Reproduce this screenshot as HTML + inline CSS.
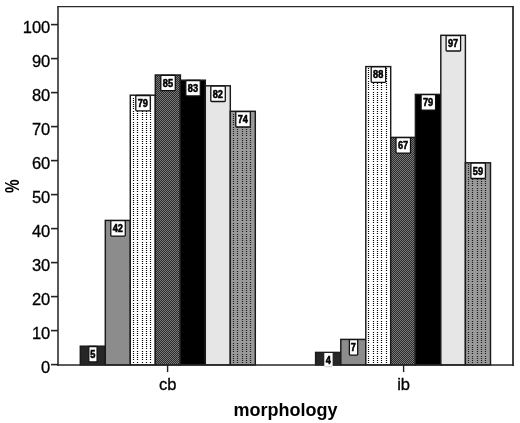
<!DOCTYPE html>
<html><head><meta charset="utf-8"><title>chart</title>
<style>
html,body{margin:0;padding:0;background:#fff;}
body{width:520px;height:423px;overflow:hidden;}
svg{display:block;}
text{font-family:"Liberation Sans",Arial,sans-serif;fill:#000;}
.t{font-size:16.5px;text-anchor:end;stroke:#000;stroke-width:0.3px;}
.c{font-size:16.5px;text-anchor:middle;stroke:#000;stroke-width:0.3px;}
.b{font-size:18px;font-weight:bold;text-anchor:middle;}
.l{font-size:10.1px;font-weight:bold;text-anchor:middle;stroke:#000;stroke-width:0.55px;}
</style></head><body>
<svg width="520" height="423" viewBox="0 0 520 423">
<defs>
<pattern id="pc" width="2" height="2" patternUnits="userSpaceOnUse" x="0" y="0">
<rect width="2" height="2" fill="#2c2c2c"/><rect width="1" height="1" fill="#787878"/><rect x="1" y="1" width="1" height="1" fill="#787878"/>
</pattern>
</defs>
<rect width="520" height="423" fill="#fff"/>

<rect x="80.3" y="346.2" width="25.0" height="18.7" fill="#262626" stroke="#1a1a1a" stroke-width="1.45"/>
<rect x="105.3" y="220.4" width="25.0" height="144.5" fill="#8c8c8c" stroke="#1a1a1a" stroke-width="1.45"/>
<rect x="130.3" y="95.2" width="25.0" height="269.7" fill="#fff" stroke="#1a1a1a" stroke-width="1.45"/>
<path d="M133.5 98 V364.3" stroke="#000" stroke-width="1.2" stroke-dasharray="1 1 1 1 1 1 1 1 1 1 1 2 1 1 1 1 1 1 1 1 1 2"/>
<path d="M137.5 98 V364.3" stroke="#000" stroke-width="1.2" stroke-dasharray="1 1 1 1 1 1 1 1 1 1 1 2 1 1 1 1 1 1 1 1 1 2"/>
<path d="M142.5 98 V364.3" stroke="#000" stroke-width="1.2" stroke-dasharray="1 1 1 1 1 1 1 1 1 1 1 2 1 1 1 1 1 1 1 1 1 2"/>
<path d="M146.5 98 V364.3" stroke="#000" stroke-width="1.2" stroke-dasharray="1 1 1 1 1 1 1 1 1 1 1 2 1 1 1 1 1 1 1 1 1 2"/>
<path d="M150.5 98 V364.3" stroke="#000" stroke-width="1.2" stroke-dasharray="1 1 1 1 1 1 1 1 1 1 1 2 1 1 1 1 1 1 1 1 1 2"/>
<rect x="155.3" y="75.0" width="25.1" height="289.9" fill="url(#pc)" stroke="#1a1a1a" stroke-width="1.45"/>
<rect x="180.4" y="80.2" width="24.9" height="284.7" fill="#000" stroke="#1a1a1a" stroke-width="1.45"/>
<rect x="205.3" y="85.8" width="25.0" height="279.1" fill="#e6e6e6" stroke="#1a1a1a" stroke-width="1.45"/>
<rect x="230.3" y="111.3" width="25.0" height="253.6" fill="#9a9a9a" stroke="#1a1a1a" stroke-width="1.45"/>
<path d="M233.5 114 V364.3" stroke="#1c1c1c" stroke-width="1.2" stroke-dasharray="1 1 1 1 1 1 1 1 1 1 1 2 1 1 1 1 1 1 1 1 1 2"/>
<path d="M237.5 114 V364.3" stroke="#1c1c1c" stroke-width="1.2" stroke-dasharray="1 1 1 1 1 1 1 1 1 1 1 2 1 1 1 1 1 1 1 1 1 2"/>
<path d="M242.5 114 V364.3" stroke="#1c1c1c" stroke-width="1.2" stroke-dasharray="1 1 1 1 1 1 1 1 1 1 1 2 1 1 1 1 1 1 1 1 1 2"/>
<path d="M246.5 114 V364.3" stroke="#1c1c1c" stroke-width="1.2" stroke-dasharray="1 1 1 1 1 1 1 1 1 1 1 2 1 1 1 1 1 1 1 1 1 2"/>
<path d="M250.5 114 V364.3" stroke="#1c1c1c" stroke-width="1.2" stroke-dasharray="1 1 1 1 1 1 1 1 1 1 1 2 1 1 1 1 1 1 1 1 1 2"/>
<rect x="315.6" y="352.4" width="25.2" height="12.5" fill="#262626" stroke="#1a1a1a" stroke-width="1.45"/>
<rect x="340.8" y="339.4" width="25.0" height="25.5" fill="#8c8c8c" stroke="#1a1a1a" stroke-width="1.45"/>
<rect x="365.8" y="66.6" width="24.9" height="298.3" fill="#fff" stroke="#1a1a1a" stroke-width="1.45"/>
<path d="M368.5 68 V364.3" stroke="#000" stroke-width="1.2" stroke-dasharray="1 1 1 1 1 1 1 1 1 1 1 2 1 1 1 1 1 1 1 1 1 2"/>
<path d="M373.5 68 V364.3" stroke="#000" stroke-width="1.2" stroke-dasharray="1 1 1 1 1 1 1 1 1 1 1 2 1 1 1 1 1 1 1 1 1 2"/>
<path d="M377.5 68 V364.3" stroke="#000" stroke-width="1.2" stroke-dasharray="1 1 1 1 1 1 1 1 1 1 1 2 1 1 1 1 1 1 1 1 1 2"/>
<path d="M381.5 68 V364.3" stroke="#000" stroke-width="1.2" stroke-dasharray="1 1 1 1 1 1 1 1 1 1 1 2 1 1 1 1 1 1 1 1 1 2"/>
<path d="M386.5 68 V364.3" stroke="#000" stroke-width="1.2" stroke-dasharray="1 1 1 1 1 1 1 1 1 1 1 2 1 1 1 1 1 1 1 1 1 2"/>
<rect x="390.7" y="137.4" width="24.7" height="227.5" fill="url(#pc)" stroke="#1a1a1a" stroke-width="1.45"/>
<rect x="415.4" y="94.4" width="25.4" height="270.5" fill="#000" stroke="#1a1a1a" stroke-width="1.45"/>
<rect x="440.8" y="35.3" width="24.6" height="329.6" fill="#e6e6e6" stroke="#1a1a1a" stroke-width="1.45"/>
<rect x="465.4" y="162.8" width="25.1" height="202.1" fill="#9a9a9a" stroke="#1a1a1a" stroke-width="1.45"/>
<path d="M468.5 164 V364.3" stroke="#1c1c1c" stroke-width="1.2" stroke-dasharray="1 1 1 1 1 1 1 1 1 1 1 2 1 1 1 1 1 1 1 1 1 2"/>
<path d="M472.5 164 V364.3" stroke="#1c1c1c" stroke-width="1.2" stroke-dasharray="1 1 1 1 1 1 1 1 1 1 1 2 1 1 1 1 1 1 1 1 1 2"/>
<path d="M477.5 164 V364.3" stroke="#1c1c1c" stroke-width="1.2" stroke-dasharray="1 1 1 1 1 1 1 1 1 1 1 2 1 1 1 1 1 1 1 1 1 2"/>
<path d="M481.5 164 V364.3" stroke="#1c1c1c" stroke-width="1.2" stroke-dasharray="1 1 1 1 1 1 1 1 1 1 1 2 1 1 1 1 1 1 1 1 1 2"/>
<path d="M485.5 164 V364.3" stroke="#1c1c1c" stroke-width="1.2" stroke-dasharray="1 1 1 1 1 1 1 1 1 1 1 2 1 1 1 1 1 1 1 1 1 2"/>
<path d="M57.2 6.6 H513.8" stroke="#2a2a2a" stroke-width="1.3"/>
<path d="M58 6 V365.8" stroke="#2e2e2e" stroke-width="1.6"/>
<path d="M513 6 V365.8" stroke="#2e2e2e" stroke-width="1.8"/>
<path d="M57.2 365 H513.8" stroke="#262626" stroke-width="1.7"/>
<rect x="88.8" y="346.5" width="8.3" height="15.4" rx="0.8" fill="#fff" stroke="#111" stroke-width="1.3"/>
<text class="l" transform="translate(92.8 357.9) scale(0.91 1)">5</text>
<rect x="110.8" y="220.7" width="14.5" height="15.4" rx="0.8" fill="#fff" stroke="#111" stroke-width="1.3"/>
<text class="l" transform="translate(117.8 232.1) scale(0.91 1)">42</text>
<rect x="135.8" y="95.5" width="14.5" height="15.4" rx="0.8" fill="#fff" stroke="#111" stroke-width="1.3"/>
<text class="l" transform="translate(142.8 106.9) scale(0.91 1)">79</text>
<rect x="160.8" y="75.3" width="14.5" height="15.4" rx="0.8" fill="#fff" stroke="#111" stroke-width="1.3"/>
<text class="l" transform="translate(167.9 86.7) scale(0.91 1)">85</text>
<rect x="185.8" y="80.5" width="14.5" height="15.4" rx="0.8" fill="#fff" stroke="#111" stroke-width="1.3"/>
<text class="l" transform="translate(192.9 91.9) scale(0.91 1)">83</text>
<rect x="210.8" y="86.1" width="14.5" height="15.4" rx="0.8" fill="#fff" stroke="#111" stroke-width="1.3"/>
<text class="l" transform="translate(217.8 97.5) scale(0.91 1)">82</text>
<rect x="235.8" y="111.6" width="14.5" height="15.4" rx="0.8" fill="#fff" stroke="#111" stroke-width="1.3"/>
<text class="l" transform="translate(242.8 123.0) scale(0.91 1)">74</text>
<rect x="324.3" y="353.0" width="8.3" height="13.2" fill="#fff"/>
<path d="M324.7 366.7 h7.5" stroke="#bdbdbd" stroke-width="0.8"/>
<text class="l" transform="translate(328.2 364.1) scale(0.91 1)">4</text>
<rect x="349.4" y="339.7" width="8.3" height="15.4" rx="0.8" fill="#fff" stroke="#111" stroke-width="1.3"/>
<text class="l" transform="translate(353.3 351.1) scale(0.91 1)">7</text>
<rect x="371.2" y="66.9" width="14.5" height="15.4" rx="0.8" fill="#fff" stroke="#111" stroke-width="1.3"/>
<text class="l" transform="translate(378.2 78.3) scale(0.91 1)">88</text>
<rect x="396.0" y="137.7" width="14.5" height="15.4" rx="0.8" fill="#fff" stroke="#111" stroke-width="1.3"/>
<text class="l" transform="translate(403.0 149.1) scale(0.91 1)">67</text>
<rect x="421.1" y="94.7" width="14.5" height="15.4" rx="0.8" fill="#fff" stroke="#111" stroke-width="1.3"/>
<text class="l" transform="translate(428.1 106.1) scale(0.91 1)">79</text>
<rect x="446.1" y="35.6" width="14.5" height="15.4" rx="0.8" fill="#fff" stroke="#111" stroke-width="1.3"/>
<text class="l" transform="translate(453.1 47.0) scale(0.91 1)">97</text>
<rect x="470.9" y="163.1" width="14.5" height="15.4" rx="0.8" fill="#fff" stroke="#111" stroke-width="1.3"/>
<text class="l" transform="translate(477.9 174.5) scale(0.91 1)">59</text>
<path d="M51 364.6 H58" stroke="#222" stroke-width="1.6"/>
<text class="t" x="50.3" y="372.5">0</text>
<path d="M51 330.6 H58" stroke="#222" stroke-width="1.6"/>
<text class="t" x="50.3" y="338.5">10</text>
<path d="M51 296.6 H58" stroke="#222" stroke-width="1.6"/>
<text class="t" x="50.3" y="304.5">20</text>
<path d="M51 262.6 H58" stroke="#222" stroke-width="1.6"/>
<text class="t" x="50.3" y="270.5">30</text>
<path d="M51 228.6 H58" stroke="#222" stroke-width="1.6"/>
<text class="t" x="50.3" y="236.5">40</text>
<path d="M51 194.6 H58" stroke="#222" stroke-width="1.6"/>
<text class="t" x="50.3" y="202.5">50</text>
<path d="M51 160.6 H58" stroke="#222" stroke-width="1.6"/>
<text class="t" x="50.3" y="168.5">60</text>
<path d="M51 126.6 H58" stroke="#222" stroke-width="1.6"/>
<text class="t" x="50.3" y="134.5">70</text>
<path d="M51 92.6 H58" stroke="#222" stroke-width="1.6"/>
<text class="t" x="50.3" y="100.5">80</text>
<path d="M51 58.6 H58" stroke="#222" stroke-width="1.6"/>
<text class="t" x="50.3" y="66.5">90</text>
<path d="M51 24.6 H58" stroke="#222" stroke-width="1.6"/>
<text class="t" x="50.3" y="32.5">100</text>
<path d="M167.6 365 V372.1" stroke="#222" stroke-width="1.4"/>
<text class="c" x="167.6" y="389.7">cb</text>
<path d="M403.6 365 V372.1" stroke="#222" stroke-width="1.4"/>
<text class="c" x="403.6" y="389.7">ib</text>
<text class="b" x="285.5" y="415.7">morphology</text>
<text class="b" transform="translate(18.8 186.3) rotate(-90) scale(0.85 1.12)" x="0" y="0">%</text>
</svg></body></html>
